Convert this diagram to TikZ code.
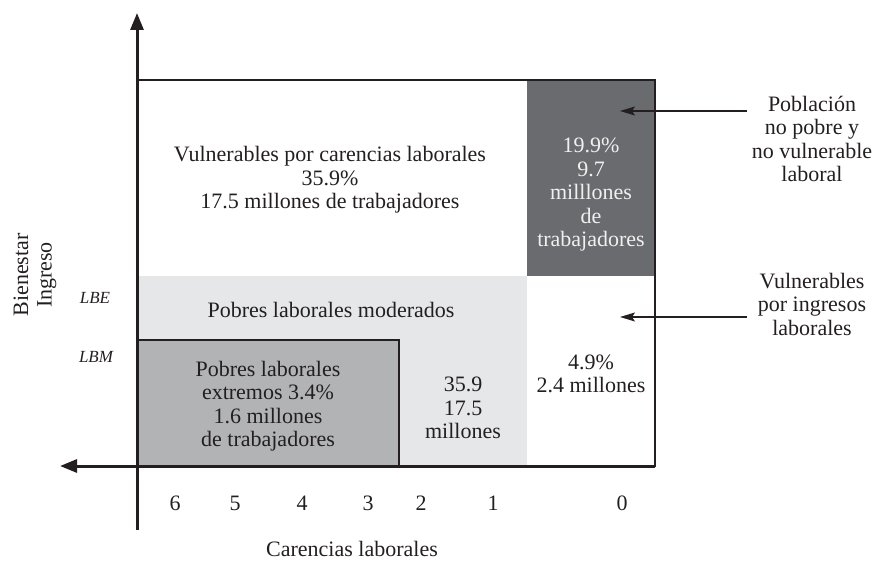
\documentclass[tikz,border=0pt]{standalone}
\usepackage{fontspec}
\setmainfont{Liberation Serif}
\usetikzlibrary{arrows.meta}
\definecolor{ink}{HTML}{231F20}
\definecolor{darkbox}{HTML}{6A6B6E}
\definecolor{midbox}{HTML}{B2B3B5}
\definecolor{lightbox}{HTML}{E6E7E8}
\definecolor{boxtext}{HTML}{F0F0F0}
\begin{document}
\begin{tikzpicture}[x=1pt,y=-1pt,
  txt/.style={font=\fontsize{22}{23.5}\selectfont, text=ink, align=center, inner sep=0pt},
  wtxt/.style={txt, text=boxtext},
  lbl/.style={font=\fontsize{17}{19}\selectfont\itshape, text=ink, inner sep=0pt},
  axisline/.style={draw=ink, line width=3pt, -{Triangle[length=17pt,width=13pt]}},
  frameline/.style={draw=ink, line width=2.5pt},
  pointer/.style={draw=ink, line width=1.2pt, -{Stealth[length=15pt,width=9pt,inset=3pt]}},
]
\useasboundingbox (0,0) rectangle (875,561);
% regions
\fill[lightbox] (137,276) rectangle (527,466);
\fill[darkbox] (527,80) rectangle (655,276);
\filldraw[fill=midbox, draw=ink, line width=1.2pt] (137,340) rectangle (399,466);
\draw[frameline] (137,80) rectangle (655,466);
% axes
\coordinate (vb) at (137,530);
\coordinate (vt) at (137,13);
\coordinate (hr) at (655,466);
\coordinate (hl) at (60,466);
\draw[axisline] (vb) -- (vt);
\draw[axisline] (hr) -- (hl);
% texts in regions
\node[txt] (vc) at (330,180) {Vulnerables por carencias laborales\\35.9\%\\17.5 millones de trabajadores};
\node[wtxt] (np) at (591,195) {19.9\%\\9.7\\milllones\\de\\trabajadores};
\node[txt] (plm) at (331,310) {Pobres laborales moderados};
\node[txt] (ple) at (268,406) {Pobres laborales\\extremos 3.4\%\\1.6 millones\\de trabajadores};
\node[txt] (mm) at (463,408) {35.9\\17.5\\millones};
\node[txt] (vi) at (591,374) {4.9\%\\2.4 millones};
% right labels
\node[txt] (pob) at (812,139) {Población\\no pobre y\\no vulnerable\\laboral};
\node[txt] (vpi) at (812,304) {Vulnerables\\por ingresos\\laborales};
\coordinate (p1) at (747,111);
\coordinate (t1) at (620,111);
\coordinate (p2) at (747,317);
\coordinate (t2) at (620,317);
\draw[pointer] (p1) -- (t1);
\draw[pointer] (p2) -- (t2);
% axis labels
\node[txt, rotate=90] (bi) at (35,275) {Bienestar\\Ingreso};
\node[lbl] (lbe) at (95,298) {LBE};
\node[lbl] (lbm) at (96,357) {LBM};
\node[txt] (car) at (352,549) {Carencias laborales};
\node[txt] (n6) at (175,503) {6};
\node[txt] (n5) at (235,503) {5};
\node[txt] (n4) at (302,503) {4};
\node[txt] (n3) at (368,503) {3};
\node[txt] (n2) at (421,503) {2};
\node[txt] (n1) at (493,503) {1};
\node[txt] (n0) at (622,503) {0};
\end{tikzpicture}
\end{document}
